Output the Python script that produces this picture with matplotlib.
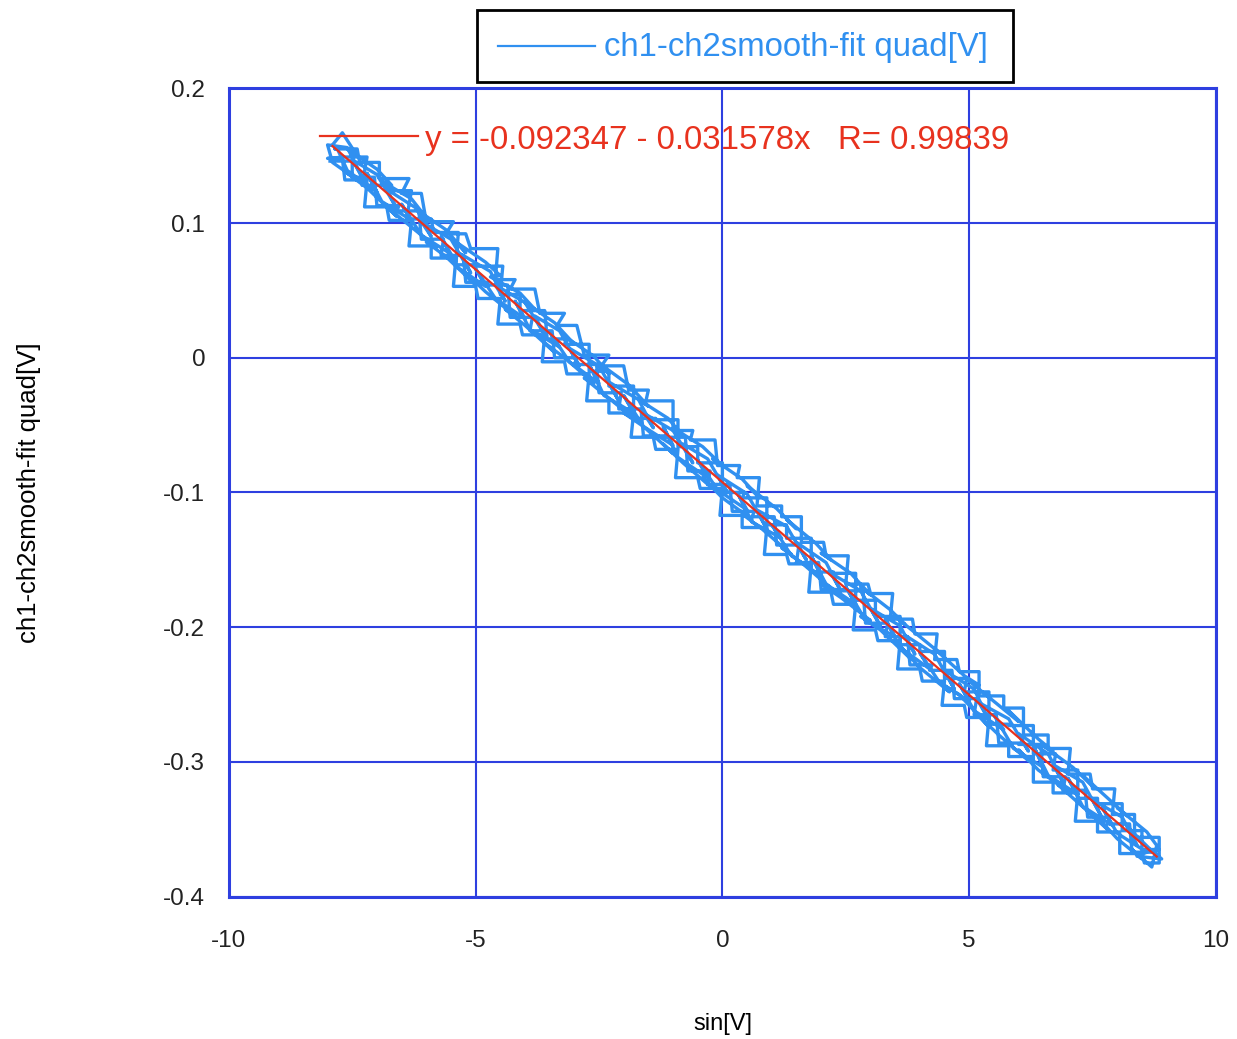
import numpy as np
import matplotlib.pyplot as plt
from matplotlib.patches import Rectangle
from matplotlib.lines import Line2D

plt.rcParams['font.family'] = ['Liberation Sans', 'DejaVu Sans']

# measured trace, passes of the sine sweep
sweep1_x = [-7.9, -7.7, -7.4, -7.6, -7.0, -6.7, -6.9, -6.3, -6.0, -6.2, -5.6, -5.2, -5.4, -4.8, -4.5, -4.7,
            -4.1, -3.8, -4.0, -3.4, -3.0, -3.2, -2.6, -2.3, -2.5, -1.9, -1.5, -1.7, -1.1, -0.8, -1.0, -0.4,
            0.0, -0.2, 0.4, 0.7, 0.5, 1.1, 1.5, 1.3, 1.9, 2.2, 2.0, 2.6, 3.0, 2.8, 3.4, 3.7, 3.5, 4.1,
            4.5, 4.3, 4.9, 5.2, 5.0, 5.6, 6.0, 5.8, 6.4, 6.7, 6.5, 7.1, 7.5, 7.3, 7.9, 8.2, 8.0, 8.6, 8.8]
sweep1_y = [0.158, 0.167, 0.150, 0.155, 0.140, 0.128, 0.131, 0.118, 0.104, 0.110, 0.095, 0.078, 0.086, 0.071,
            0.061, 0.060, 0.048, 0.036, 0.041, 0.026, 0.010, 0.016, 0.001, -0.012, -0.004, -0.020, -0.036,
            -0.031, -0.045, -0.058, -0.052, -0.066, -0.080, -0.075, -0.090, -0.102, -0.095, -0.112, -0.127,
            -0.120, -0.138, -0.150, -0.145, -0.160, -0.176, -0.170, -0.187, -0.198, -0.192, -0.210, -0.222,
            -0.216, -0.236, -0.243, -0.240, -0.258, -0.270, -0.262, -0.283, -0.292, -0.288, -0.304, -0.318,
            -0.310, -0.330, -0.340, -0.334, -0.352, -0.362]

sweep2_x = [8.7, 8.3, 8.5, 8.0, 7.6, 7.8, 7.2, 6.8, 7.0, 6.4, 6.0, 6.2, 5.6, 5.2, 5.4, 4.8, 4.4, 4.6, 4.0,
            3.6, 3.8, 3.2, 2.8, 3.0, 2.4, 2.0, 2.2, 1.6, 1.2, 1.4, 0.8, 0.4, 0.6, 0.0, -0.4, -0.2, -0.8,
            -1.2, -1.0, -1.6, -2.0, -1.8, -2.4, -2.8, -2.6, -3.2, -3.6, -3.4, -4.0, -4.4, -4.2, -4.8, -5.2,
            -5.0, -5.6, -6.0, -5.8, -6.4, -6.8, -6.6, -7.2, -7.6, -7.4, -7.9]
sweep2_y = [-0.378, -0.365, -0.372, -0.357, -0.341, -0.350, -0.330, -0.317, -0.322, -0.306, -0.291, -0.299,
            -0.280, -0.266, -0.274, -0.250, -0.241, -0.248, -0.230, -0.214, -0.223, -0.202, -0.192, -0.195,
            -0.178, -0.168, -0.171, -0.152, -0.141, -0.146, -0.127, -0.116, -0.120, -0.104, -0.089, -0.097,
            -0.078, -0.064, -0.071, -0.051, -0.041, -0.045, -0.027, -0.015, -0.019, 0.000, 0.011, 0.004,
            0.024, 0.036, 0.031, 0.049, 0.063, 0.054, 0.075, 0.086, 0.082, 0.100, 0.112, 0.105, 0.126,
            0.137, 0.132, 0.145]

sweep3_x = [-8.0, -7.6, -7.3, -7.5, -7.0, -6.6, -6.8, -6.2, -5.9, -6.1, -5.5, -5.1, -5.3, -4.7, -4.4, -4.6,
            -4.0, -3.6, -3.8, -3.3, -2.9, -3.1, -2.5, -2.1, -2.3, -1.7, -1.4, -1.6, -1.0, -0.6, -0.8, -0.3,
            0.1, -0.1, 0.5, 0.9, 0.7, 1.3, 1.7, 1.5, 2.1, 2.4, 2.2, 2.8, 3.2, 3.0, 3.6, 3.9, 3.7, 4.3, 4.7,
            4.5, 5.1, 5.4, 5.2, 5.8, 6.2, 6.0, 6.6, 6.9, 6.7, 7.3, 7.7, 7.5, 8.1, 8.4, 8.2, 8.7]
sweep3_y = [0.158, 0.156, 0.134, 0.147, 0.136, 0.111, 0.125, 0.111, 0.090, 0.101, 0.088, 0.063, 0.077, 0.064,
            0.042, 0.054, 0.041, 0.017, 0.031, 0.020, -0.006, 0.007, -0.006, -0.032, -0.018, -0.031, -0.052,
            -0.041, -0.054, -0.078, -0.064, -0.075, -0.100, -0.087, -0.101, -0.127, -0.113, -0.125, -0.150,
            -0.137, -0.152, -0.173, -0.160, -0.173, -0.199, -0.186, -0.199, -0.220, -0.206, -0.220, -0.246,
            -0.232, -0.246, -0.269, -0.256, -0.268, -0.292, -0.279, -0.294, -0.315, -0.302, -0.315, -0.342,
            -0.328, -0.341, -0.362, -0.348, -0.366]

sweep4_x = [8.9, 8.4, 8.6, 8.0, 7.7, 7.9, 7.3, 7.0, 7.2, 6.6, 6.3, 6.5, 5.9, 5.5, 5.7, 5.1, 4.8, 5.0, 4.4,
            4.0, 4.2, 3.6, 3.3, 3.5, 2.9, 2.5, 2.7, 2.1, 1.8, 2.0, 1.4, 1.0, 1.2, 0.6, 0.3, 0.5, -0.1, -0.5,
            -0.3, -0.9, -1.2, -1.0, -1.6, -2.0, -1.8, -2.4, -2.7, -2.5, -3.1, -3.5, -3.3, -3.9, -4.2, -4.0,
            -4.6, -5.0, -4.8, -5.4, -5.7, -5.5, -6.1, -6.5, -6.3, -6.9, -7.2, -7.0, -7.6, -7.8]
sweep4_y = [-0.372, -0.370, -0.367, -0.353, -0.334, -0.347, -0.333, -0.312, -0.324, -0.310, -0.288, -0.304,
            -0.290, -0.265, -0.276, -0.262, -0.242, -0.255, -0.241, -0.219, -0.231, -0.215, -0.194, -0.207,
            -0.195, -0.170, -0.183, -0.168, -0.147, -0.162, -0.147, -0.124, -0.134, -0.122, -0.100, -0.113,
            -0.098, -0.076, -0.089, -0.074, -0.051, -0.065, -0.051, -0.028, -0.041, -0.028, -0.005, -0.019,
            -0.003, 0.019, 0.008, 0.021, 0.042, 0.029, 0.044, 0.066, 0.053, 0.068, 0.090, 0.077, 0.091,
            0.114, 0.102, 0.116, 0.137, 0.123, 0.139, 0.155]

# remaining passes: flat steps (start x, end x, level)
sweep5_x0 = [-7.85, -7.35, -6.95, -6.5, -6.0, -5.6, -5.1, -4.6, -4.3, -3.7, -3.35, -2.8, -2.45, -1.9,
             -1.55, -1.0, -0.65, -0.1, 0.3, 0.7, 1.2, 1.6, 2.1, 2.5, 3.0, 3.4, 3.9, 4.3, 4.8, 5.2, 5.7,
             6.1, 6.6, 7.0, 7.5, 7.9, 8.35]
sweep5_x1 = [-7.4, -6.95, -6.35, -6.1, -5.45, -5.2, -4.55, -4.2, -3.8, -3.2, -2.95, -2.3, -2.0, -1.5,
             -1.0, -0.6, -0.15, 0.35, 0.75, 1.2, 1.6, 2.05, 2.55, 2.95, 3.45, 3.85, 4.35, 4.75, 5.2, 5.7,
             6.1, 6.6, 7.05, 7.45, 7.95, 8.35, 8.85]
sweep5_lvl = [0.155, 0.145, 0.133, 0.122, 0.101, 0.092, 0.081, 0.058, 0.051, 0.033, 0.024, 0.002, -0.006,
              -0.024, -0.032, -0.054, -0.061, -0.080, -0.089, -0.110, -0.118, -0.137, -0.147, -0.168,
              -0.175, -0.194, -0.205, -0.224, -0.233, -0.251, -0.260, -0.280, -0.290, -0.309, -0.320,
              -0.339, -0.356]

sweep6_x0 = [8.85, 8.5, 8.05, 7.6, 7.2, 6.7, 6.3, 5.8, 5.4, 4.9, 4.5, 4.0, 3.6, 3.1, 2.7, 2.2, 1.8, 1.3,
             0.9, 0.4, 0.0, -0.5, -0.9, -1.4, -1.8, -2.3, -2.7, -3.2, -3.6, -4.1, -4.5, -5.0, -5.4, -5.9,
             -6.3, -6.8, -7.2, -7.7]
sweep6_x1 = [8.55, 8.05, 7.6, 7.15, 6.7, 6.3, 5.8, 5.35, 4.95, 4.45, 4.05, 3.55, 3.15, 2.65, 2.25, 1.75,
             1.35, 0.85, 0.4, -0.05, -0.45, -0.95, -1.35, -1.85, -2.3, -2.75, -3.15, -3.65, -4.05, -4.55,
             -4.95, -5.45, -5.9, -6.35, -6.75, -7.25, -7.65, -8.0]
sweep6_lvl = [-0.375, -0.368, -0.352, -0.344, -0.323, -0.315, -0.296, -0.288, -0.267, -0.258, -0.240,
              -0.231, -0.210, -0.202, -0.183, -0.174, -0.153, -0.146, -0.126, -0.117, -0.097, -0.089,
              -0.068, -0.059, -0.041, -0.032, -0.012, -0.003, 0.017, 0.025, 0.044, 0.053, 0.074, 0.083,
              0.102, 0.112, 0.132, 0.148]

sweep7_x0 = [-7.65, -7.3, -6.7, -6.4, -5.85, -5.4, -5.0, -4.5, -4.1, -3.55, -3.2, -2.7, -2.3, -1.8, -1.4,
             -0.9, -0.5, 0.0, 0.4, 0.9, 1.3, 1.8, 2.2, 2.7, 3.1, 3.6, 4.0, 4.5, 4.9, 5.4, 5.8, 6.3, 6.7,
             7.2, 7.6, 8.1, 8.5]
sweep7_x1 = [-7.2, -6.8, -6.3, -5.9, -5.35, -5.0, -4.45, -4.1, -3.6, -3.15, -2.7, -2.3, -1.8, -1.35, -0.9,
             -0.5, 0.0, 0.45, 0.9, 1.3, 1.8, 2.25, 2.7, 3.1, 3.6, 4.0, 4.5, 4.95, 5.4, 5.8, 6.3, 6.75, 7.2,
             7.6, 8.1, 8.5, 8.85]
sweep7_lvl = [0.149, 0.128, 0.124, 0.103, 0.093, 0.069, 0.068, 0.047, 0.035, 0.014, 0.010, -0.010, -0.021,
              -0.045, -0.046, -0.066, -0.078, -0.100, -0.104, -0.124, -0.134, -0.159, -0.160, -0.180,
              -0.192, -0.213, -0.218, -0.238, -0.248, -0.272, -0.273, -0.294, -0.306, -0.327, -0.331,
              -0.351, -0.365]

sweep8_x0 = [8.75, 8.25, 7.85, 7.35, 6.95, 6.45, 6.05, 5.55, 5.15, 4.65, 4.25, 3.75, 3.35, 2.85, 2.45,
             1.95, 1.55, 1.05, 0.65, 0.15, -0.25, -0.75, -1.15, -1.65, -2.05, -2.55, -2.95, -3.45, -3.85,
             -4.35, -4.75, -5.25, -5.65, -6.15, -6.55, -7.05, -7.5]
sweep8_x1 = [8.3, 7.8, 7.4, 6.9, 6.5, 6.0, 5.6, 5.1, 4.7, 4.2, 3.8, 3.3, 2.9, 2.4, 2.0, 1.5, 1.1, 0.6, 0.2,
             -0.3, -0.7, -1.2, -1.6, -2.1, -2.5, -3.0, -3.4, -3.9, -4.3, -4.8, -5.2, -5.7, -6.1, -6.6,
             -7.0, -7.5, -7.95]
sweep8_lvl = [-0.367, -0.346, -0.341, -0.321, -0.311, -0.287, -0.286, -0.265, -0.253, -0.232, -0.228,
              -0.207, -0.197, -0.173, -0.172, -0.152, -0.139, -0.118, -0.114, -0.094, -0.084, -0.059,
              -0.058, -0.038, -0.026, -0.005, 0.000, 0.020, 0.030, 0.054, 0.056, 0.076, 0.088, 0.109,
              0.113, 0.134, 0.146]

# linear fit reported by the analysis
fit_a = -0.092347
fit_b = -0.031578
fit_r = 0.99839
fit_xrange = [-7.9, 8.8]


def steps(x0, x1, lvl):
    px = np.column_stack([x0, x1]).ravel()
    py = np.repeat(lvl, 2)
    return list(px), list(py)


xs = sweep1_x + sweep2_x + sweep3_x + sweep4_x
ys = sweep1_y + sweep2_y + sweep3_y + sweep4_y
for x0, x1, lvl in [(sweep5_x0, sweep5_x1, sweep5_lvl), (sweep6_x0, sweep6_x1, sweep6_lvl),
                    (sweep7_x0, sweep7_x1, sweep7_lvl), (sweep8_x0, sweep8_x1, sweep8_lvl)]:
    sx, sy = steps(x0, x1, lvl)
    xs += sx
    ys += sy

grid_blue = '#2e3fe0'
data_blue = '#3090f0'
fit_red = '#e8321e'

fig = plt.figure(figsize=(12.37, 10.39), dpi=100)
ax = fig.add_axes([0.185, 0.137, 0.798, 0.778])

ax.plot(xs, ys, color=data_blue, lw=2.4, zorder=3)
fx = np.array(fit_xrange)
ax.plot(fx, fit_a + fit_b * fx, color=fit_red, lw=1.6, zorder=4)

ax.set_xlim(-10, 10)
ax.set_ylim(-0.4, 0.2)
ax.set_xticks([-10, -5, 0, 5, 10])
ax.set_xticklabels(['-10', '-5', '0', '5', '10'])
ax.set_yticks([-0.4, -0.3, -0.2, -0.1, 0, 0.1, 0.2])
ax.set_yticklabels(['-0.4', '-0.3', '-0.2', '-0.1', '0', '0.1', '0.2'])
ax.grid(True, color=grid_blue, lw=1.5, zorder=1)
ax.set_axisbelow(True)
for s in ax.spines.values():
    s.set_color(grid_blue)
    s.set_linewidth(2.2)
ax.tick_params(length=0, labelsize=17.5, colors='#222222')
ax.tick_params(axis='y', pad=17)
ax.tick_params(axis='x', pad=24)

ax.set_xlabel('sin[V]', fontsize=17, labelpad=44)
ax.set_ylabel('ch1-ch2smooth-fit quad[V]', fontsize=18.5, labelpad=88)

# fit annotation with its line sample
ax.add_line(Line2D([0.092, 0.1915], [0.9405, 0.9405], transform=ax.transAxes,
                   color=fit_red, lw=1.6, zorder=5))
eq = 'y = %.6f - %.6fx   R= %.5f' % (fit_a, -fit_b, fit_r)
ax.text(0.199, 0.935, eq, transform=ax.transAxes, color=fit_red,
        fontsize=23.8, va='center', ha='left', zorder=5)

# legend box above the axes
fig.add_artist(Rectangle((0.3856, 0.921), 0.4334, 0.069, transform=fig.transFigure,
                         fill=False, edgecolor='black', lw=2))
fig.add_artist(Line2D([0.4026, 0.481], [0.9557, 0.9557], transform=fig.transFigure,
                      color=data_blue, lw=1.6))
fig.text(0.488, 0.9545, 'ch1-ch2smooth-fit quad[V]', color=data_blue,
         fontsize=23.7, va='center', ha='left')

fig.savefig('out.png', dpi=100)
